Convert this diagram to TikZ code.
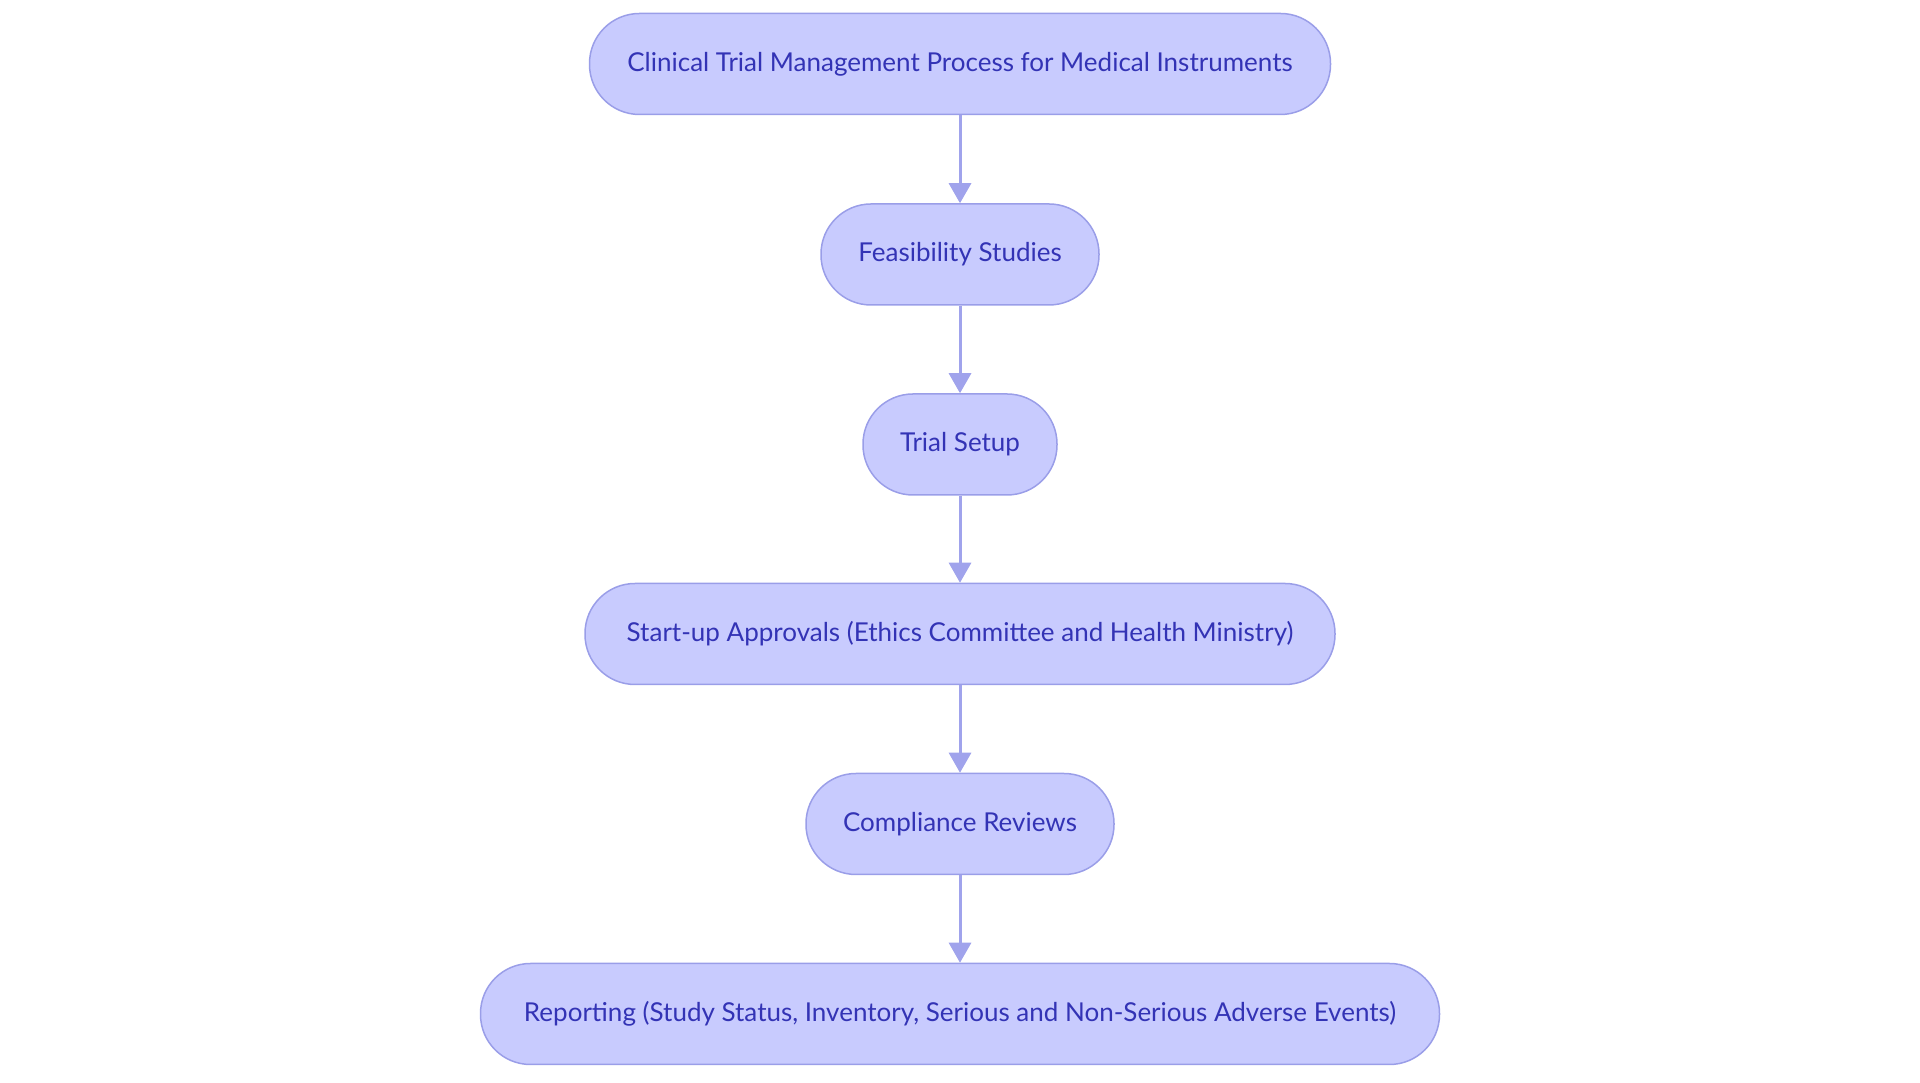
\documentclass[tikz,border=0pt]{standalone}
\usepackage{fontspec}
\setmainfont{Lato}
\usetikzlibrary{arrows.meta}
\definecolor{boxfill}{HTML}{C8CBFE}
\definecolor{boxline}{HTML}{9A9EE8}
\definecolor{boxtext}{HTML}{3333B5}
\definecolor{arrowc}{HTML}{A0A3EC}
\tikzset{
  stepbox/.style={draw=boxline, fill=boxfill, line width=1.5pt, rounded corners=50pt,
    minimum height=101pt, inner sep=0pt, text=boxtext, font=\fontsize{26}{30}\selectfont},
  flow/.style={draw=arrowc, line width=3pt, -{Triangle[width=22pt,length=20pt]}}
}
\begin{document}
\begin{tikzpicture}[x=1pt,y=1pt]
\useasboundingbox (0,0) rectangle (1920,1083);
\node[stepbox, minimum width=741pt] (n1) at (960,1019) {Clinical Trial Management Process for Medical Instruments};
\node[stepbox, minimum width=278pt] (n2) at (960,828.5) {Feasibility Studies};
\node[stepbox, minimum width=194pt] (n3) at (960,638.5) {Trial Setup};
\node[stepbox, minimum width=750pt] (n4) at (960,449) {Start-up Approvals (Ethics Committee and Health Ministry)};
\node[stepbox, minimum width=308pt] (n5) at (960,259) {Compliance Reviews};
\node[stepbox, minimum width=959pt] (n6) at (960,69) {Reporting (Study Status, Inventory, Serious and Non-Serious Adverse Events)};
\draw[flow] (n1) -- (n2);
\draw[flow] (n2) -- (n3);
\draw[flow] (n3) -- (n4);
\draw[flow] (n4) -- (n5);
\draw[flow] (n5) -- (n6);
\end{tikzpicture}
\end{document}
